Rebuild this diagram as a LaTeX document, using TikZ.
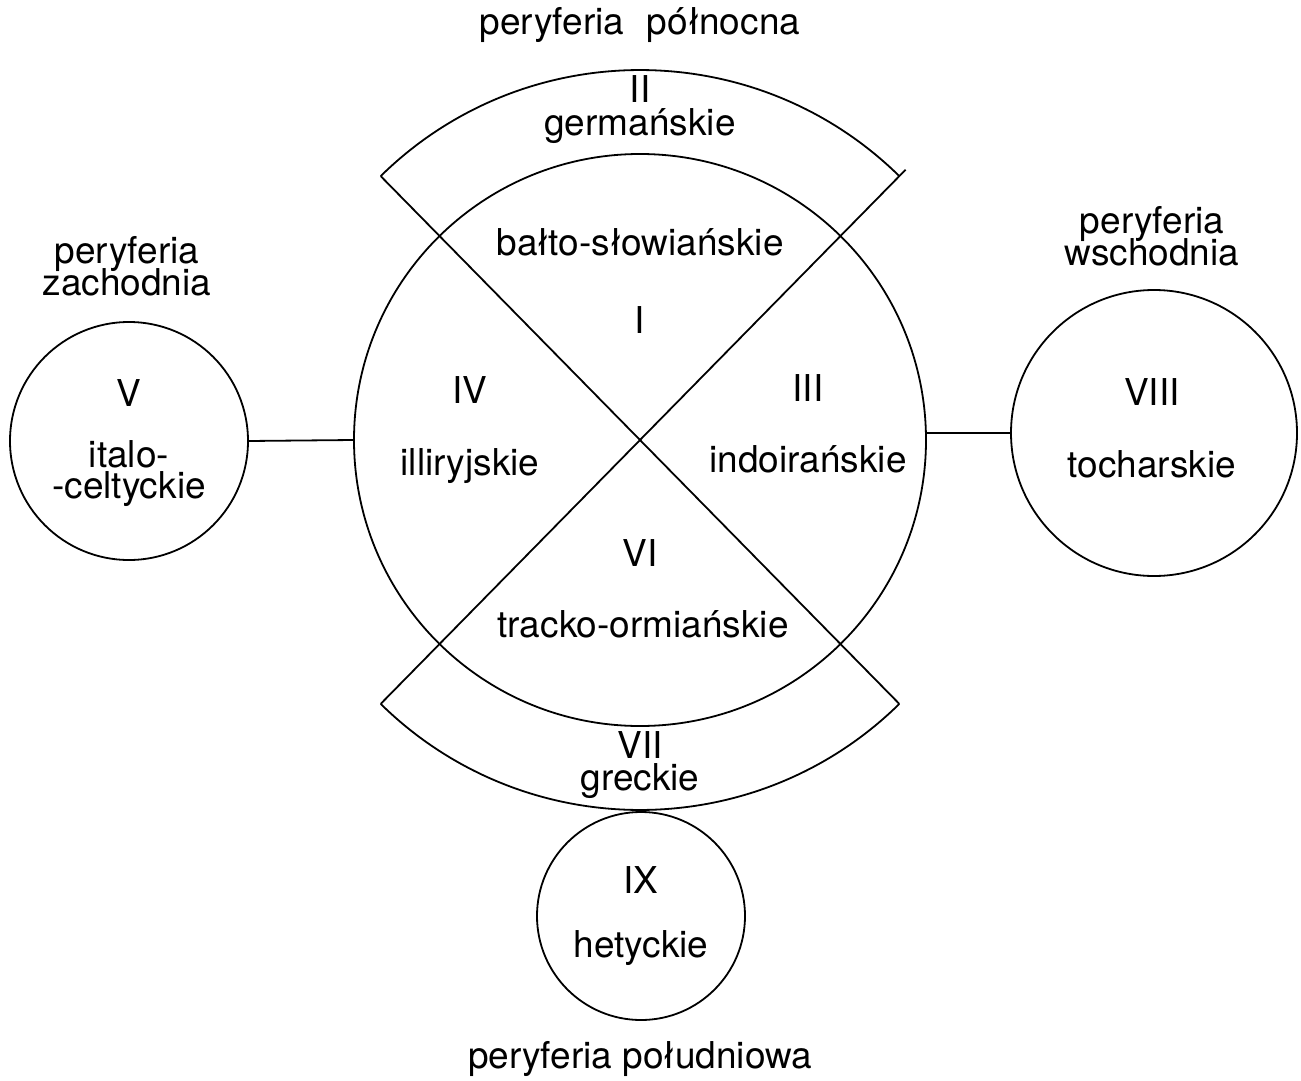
\documentclass[tikz,border=0pt]{standalone}
\usepackage{fontspec}
\setmainfont{TeX Gyre Heros}
\usetikzlibrary{calc}
\begin{document}
\begin{tikzpicture}[x=0.5pt,y=-0.5pt,line width=0.9pt,
  lbl/.style={font=\fontsize{18.5}{16}\selectfont,inner sep=0pt,anchor=base},
  ring/.style={draw,circle,inner sep=0pt}]
\useasboundingbox (0,0) rectangle (1301,1081);
\coordinate (C) at (640,440);
% circles
\node[ring,minimum size=286pt] (main) at (C) {};
\node[ring,minimum size=119pt] (V) at (129,441) {};
\node[ring,minimum size=143pt] (VIII) at (1154,433) {};
\node[ring,minimum size=104pt] (IX) at (641,916) {};
% band corners
\coordinate (tl) at ($(C)+(225.5:370)$);
\coordinate (tr) at ($(C)+(314.5:370)$);
\coordinate (trx) at ($(C)+(314.5:379)$);
\coordinate (bl) at ($(C)+(134.5:370)$);
\coordinate (br) at ($(C)+(45.5:370)$);
% outer arcs
\draw (tl) arc[start angle=225.5,end angle=314.5,radius=370];
\draw (bl) arc[start angle=134.5,end angle=45.5,radius=370];
% diagonals
\draw (tl) -- (br);
\draw (bl) -- (trx);
% connectors
\draw (V.east) -- (main.west);
\draw (VIII.west) -- (VIII.west -| main.east);
% labels
\node[lbl] (tN) at (640,35) {peryferia\hspace{0.62em}północna};
\node[lbl] (tII) at (640,103) {II};
\node[lbl] (tGe) at (640,135) {germańskie};
\node[lbl] (tBS) at (640,255) {bałto-słowiańskie};
\node[lbl] (tI) at (640,333) {I};
\node[lbl] (tIV) at (470,403) {IV};
\node[lbl] (tIl) at (470,475) {illiryjskie};
\node[lbl] (tIII) at (808,401) {III};
\node[lbl] (tInd) at (808,472) {indoirańskie};
\node[lbl] (tVI) at (640,566) {VI};
\node[lbl] (tTr) at (643,637) {tracko-ormiańskie};
\node[lbl] (tVII) at (640,758) {VII};
\node[lbl] (tGr) at (640,790) {greckie};
\node[lbl] (tW1) at (127,263) {peryferia};
\node[lbl] (tW2) at (127,295) {zachodnia};
\node[lbl] (tV) at (129,406) {V};
\node[lbl] (tIt1) at (129,467) {italo-};
\node[lbl] (tIt2) at (129,498) {-celtyckie};
\node[lbl] (tE1) at (1152,233) {peryferia};
\node[lbl] (tE2) at (1152,265) {wschodnia};
\node[lbl] (tVIII) at (1152,405) {VIII};
\node[lbl] (tTo) at (1152,477) {tocharskie};
\node[lbl] (tIX) at (641,893) {IX};
\node[lbl] (tHe) at (641,957) {hetyckie};
\node[lbl] (tS) at (640,1068) {peryferia południowa};
\end{tikzpicture}
\end{document}
